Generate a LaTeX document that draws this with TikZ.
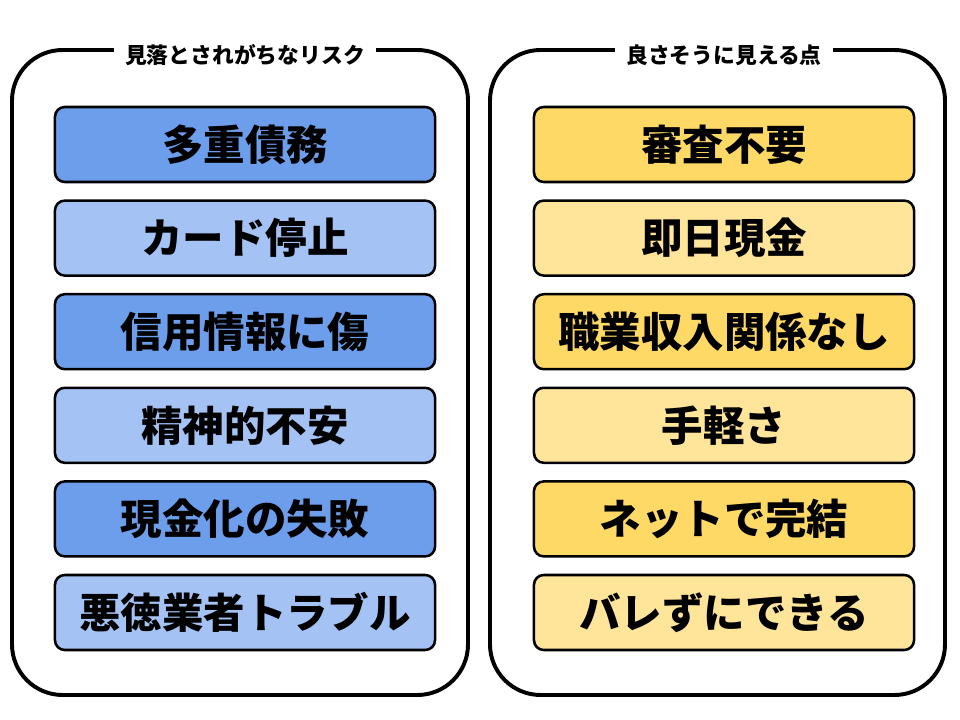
\documentclass[tikz,border=0pt]{standalone}
\usepackage{fontspec}
\setmainfont{Noto Sans CJK JP}
\usetikzlibrary{positioning, calc}
\definecolor{blueA}{HTML}{6D9EEB}
\definecolor{blueB}{HTML}{A4C2F4}
\definecolor{yellowA}{HTML}{FFD966}
\definecolor{yellowB}{HTML}{FFE599}
\tikzset{
  panel/.style={draw, line width=2.8pt, rounded corners=36pt},
  paneltitle/.style={fill=white, inner xsep=8pt, font=\bfseries\fontsize{15.5}{18}\selectfont},
  itembox/.style={draw, line width=1.8pt, rounded corners=7pt, minimum width=9.5cm, minimum height=1.875cm, font=\bfseries\fontsize{29.5}{34}\selectfont}
}
\begin{document}
\begin{tikzpicture}[x=0.025cm, y=-0.025cm]
    \useasboundingbox (0,0) rectangle (960,720);
    % Panneaux
    \draw[panel] (12,50) rectangle (468,695);
    \draw[panel] (490,50) rectangle (945,695);
    \node[paneltitle] (titleL) at (245,55) {見落とされがちなリスク};
    \node[paneltitle] (titleR) at (724,55) {良さそうに見える点};

    % Risques
    \foreach \txt [count=\i] in {多重債務, カード停止, 信用情報に傷, 精神的不安, 現金化の失敗, 悪徳業者トラブル} {
        \pgfmathsetmacro{\yy}{144.5+93.6*(\i-1)}
        \ifodd\i \def\col{blueA}\else\def\col{blueB}\fi
        \node[itembox, fill=\col] (risk\i) at (245,\yy) {\txt};
    }
    % Points positifs
    \foreach \txt [count=\i] in {審査不要, 即日現金, 職業収入関係なし, 手軽さ, ネットで完結, バレずにできる} {
        \pgfmathsetmacro{\yy}{144.5+93.6*(\i-1)}
        \ifodd\i \def\col{yellowA}\else\def\col{yellowB}\fi
        \node[itembox, fill=\col] (good\i) at (724,\yy) {\txt};
    }
\end{tikzpicture}
\end{document}
